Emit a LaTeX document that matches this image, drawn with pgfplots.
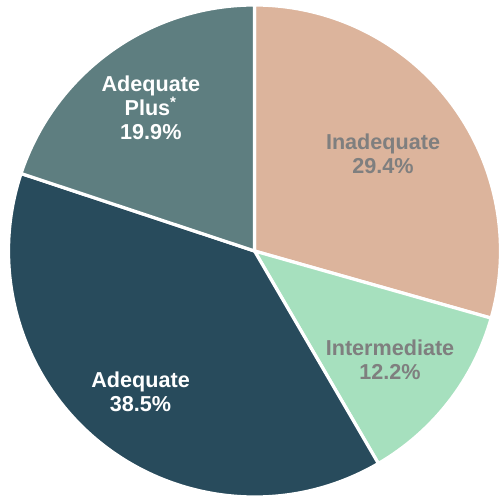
\documentclass[border=0pt]{standalone}
\usepackage{fontspec}
\setmainfont{Liberation Sans}
\usepackage{pgfplots}
\usepackage{pgfplotstable}
\pgfplotsset{compat=1.18}

\definecolor{cInad}{HTML}{DCB49C}
\definecolor{cInter}{HTML}{A6E0BE}
\definecolor{cAdeq}{HTML}{284B5C}
\definecolor{cPlus}{HTML}{5E7E80}
\definecolor{tGray}{HTML}{7F7F7F}
\newcommand\lblfont{\fontsize{10.8}{12}\selectfont\bfseries}

% share in percent, clockwise from 12 o'clock; pos/turn place the label
\pgfplotstableread[col sep=comma]{
label,value,fill,text,pos,turn
Inadequate,29.4,cInad,tGray,0.655,0
Intermediate,12.2,cInter,tGray,0.707,-1
Adequate,38.5,cAdeq,white,0.735,0
{Adequate\\Plus\textsuperscript{*}},19.9,cPlus,white,0.72,0
}\piedata

\begin{document}
\begin{tikzpicture}
\begin{axis}[hide axis, scale only axis, width=249.5pt, height=249pt,
  xmin=0, xmax=499, ymin=0, ymax=498, clip=false]
\pgfplotstablegetrowsof{\piedata}
\pgfmathtruncatemacro\N{\pgfplotsretval-1}
\gdef\cum{90}
\pgfplotsforeachungrouped \i in {0,...,\N}{%
  \pgfplotstablegetelem{\i}{value}\of\piedata \let\v\pgfplotsretval
  \pgfplotstablegetelem{\i}{fill}\of\piedata \let\c\pgfplotsretval
  \pgfplotstablegetelem{\i}{text}\of\piedata \let\tc\pgfplotsretval
  \pgfplotstablegetelem{\i}{pos}\of\piedata \let\p\pgfplotsretval
  \pgfplotstablegetelem{\i}{turn}\of\piedata \let\t\pgfplotsretval
  \pgfplotstablegetelem{\i}{label}\of\piedata \let\l\pgfplotsretval
  \pgfmathsetmacro\a{\cum}
  \pgfmathsetmacro\b{\cum-3.6*\v}
  \pgfmathsetmacro\m{(\a+\b)/2+\t}
  \pgfmathsetmacro\sx{254.5+246*cos(\a)}
  \pgfmathsetmacro\sy{247+246*sin(\a)}
  \pgfmathsetmacro\lx{254.5+\p*246*cos(\m)}
  \pgfmathsetmacro\ly{247+\p*246*sin(\m)}
  \edef\temp{%
    \noexpand\fill[fill=\c, draw=white, line width=1.6pt, line join=round]
      (axis cs:254.5,247) -- (axis cs:\sx,\sy)
      arc[start angle=\a, end angle=\b, radius=123pt] -- cycle;
    \noexpand\node[text=\tc, align=center, font=\noexpand\lblfont]
      at (axis cs:\lx,\ly) {\unexpanded\expandafter{\l}\noexpand\\\v\noexpand\%};
  }%
  \temp
  \global\let\cum\b
}
\end{axis}
\pgfresetboundingbox
\path[use as bounding box] (current axis.south west) rectangle (current axis.north east);
\end{tikzpicture}
\end{document}
